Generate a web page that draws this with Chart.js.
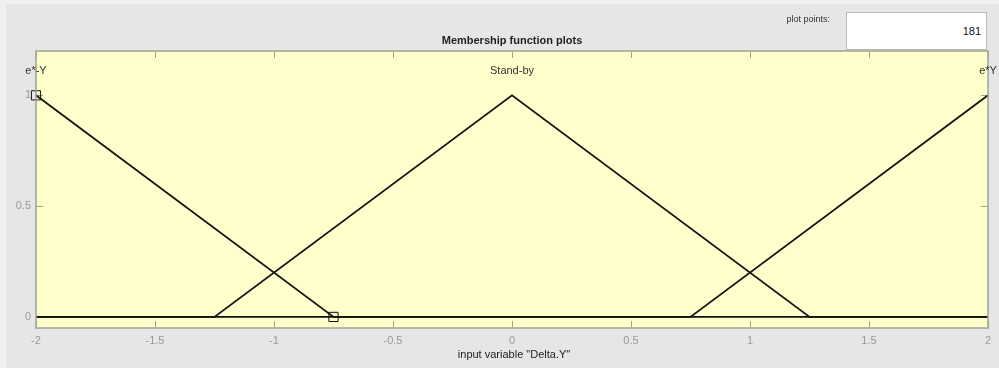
<!DOCTYPE html>
<html>
<head>
<meta charset="utf-8">
<script src="https://cdn.jsdelivr.net/npm/chart.js@4.4.1/dist/chart.umd.min.js"></script>
<style>
  html,body{margin:0;padding:0;}
  body{width:999px;height:368px;background:#f0f0f0;position:relative;overflow:hidden;font-family:"Liberation Sans",Arial,sans-serif;}
  #panel{position:absolute;left:6px;top:4px;width:993px;height:364px;background:#e6e6e6;}
  #wrap{position:absolute;left:0;top:0;width:999px;height:368px;}
  #pplabel{position:absolute;left:770px;top:14px;width:60px;text-align:right;font-size:9px;color:#333;}
  #ppbox{position:absolute;left:846px;top:12px;width:139px;height:36px;background:#fff;border:1px solid #bbb;}
  #ppval{position:absolute;right:5px;top:12px;font-size:11px;color:#111;}
</style>
</head>
<body>
<div id="panel"></div>
<div id="wrap"><canvas id="c" width="999" height="368"></canvas></div>
<div id="pplabel">plot points:</div>
<div id="ppbox"><span id="ppval">181</span></div>
<script>
// ---- data ----
const xTicks = [-2, -1.5, -1, -0.5, 0, 0.5, 1, 1.5, 2];
const yTicks = [0, 0.5, 1];
const mfNames = ["e*-Y", "Stand-by", "e*Y"];
const mfPeaks = [-2, 0, 2];
const eNegX = [-2, -0.75, 2];
const eNegY = [1, 0, 0];
const standX = [-2, -1.25, 0, 1.25, 2];
const standY = [0, 0, 1, 0, 0];
const ePosX = [-2, 0.75, 2];
const ePosY = [0, 0, 1];
const chartTitle = "Membership function plots";
const xTitle = 'input variable "Delta.Y"';

const pts = (xs, ys) => xs.map((x, i) => ({x: x, y: ys[i]}));

const FONT = '"Liberation Sans", Arial, sans-serif';

const decor = {
  id: 'decor',
  beforeDatasetsDraw(chart) {
    const {ctx, chartArea: a, scales} = chart;
    const xs = scales.x, ys = scales.y;
    ctx.save();
    ctx.fillStyle = '#ffffcc';
    ctx.fillRect(a.left, a.top, a.right - a.left, a.bottom - a.top);
    ctx.strokeStyle = '#a3a38f';
    ctx.lineWidth = 1;
    ctx.beginPath();
    const L = 7;
    xTicks.forEach(v => {
      const px = Math.round(xs.getPixelForValue(v)) + 0.5;
      ctx.moveTo(px, a.bottom); ctx.lineTo(px, a.bottom - L);
      ctx.moveTo(px, a.top); ctx.lineTo(px, a.top + L);
    });
    yTicks.forEach(v => {
      const py = Math.round(ys.getPixelForValue(v)) + 0.5;
      ctx.moveTo(a.left, py); ctx.lineTo(a.left + L, py);
      ctx.moveTo(a.right, py); ctx.lineTo(a.right - L, py);
    });
    ctx.stroke();
    ctx.restore();
  },
  afterDraw(chart) {
    const {ctx, chartArea: a, scales} = chart;
    const xs = scales.x, ys = scales.y;
    ctx.save();
    ctx.strokeStyle = '#a3a38f';
    ctx.lineWidth = 1.5;
    ctx.strokeRect(a.left, a.top, a.right - a.left, a.bottom - a.top);
    // title
    ctx.fillStyle = '#222';
    ctx.font = 'bold 11px ' + FONT;
    ctx.textAlign = 'center';
    ctx.textBaseline = 'middle';
    ctx.fillText(chartTitle, (a.left + a.right) / 2, 41);
    // x axis title
    ctx.font = '11px ' + FONT;
    ctx.fillStyle = '#222';
    ctx.fillText(xTitle, (a.left + a.right) / 2 + 2, 355);
    // MF labels
    ctx.fillStyle = '#333';
    mfNames.forEach((n, i) => {
      ctx.fillText(n, xs.getPixelForValue(mfPeaks[i]), ys.getPixelForValue(1.108));
    });
    ctx.restore();
  }
};

const lineDs = (data, radii) => ({
  data: data,
  showLine: true,
  borderColor: '#111',
  borderWidth: 1.8,
  pointStyle: 'rect',
  pointRadius: radii,
  pointBorderColor: '#111',
  pointBorderWidth: 1,
  pointBackgroundColor: 'rgba(0,0,0,0)',
  pointHoverRadius: radii,
  tension: 0,
  clip: false
});

new Chart(document.getElementById('c'), {
  type: 'scatter',
  data: {
    datasets: [
      lineDs(pts(standX, standY), 0),
      lineDs(pts(ePosX, ePosY), 0),
      lineDs(pts(eNegX, eNegY), [6.5, 6.5, 0])
    ]
  },
  options: {
    responsive: false,
    animation: false,
    events: [],
    layout: {padding: {top: 51, right: 11, left: 0, bottom: 0}},
    plugins: {legend: {display: false}, tooltip: {enabled: false}, title: {display: false}},
    scales: {
      x: {
        type: 'linear', min: -2, max: 2,
        afterBuildTicks: s => { s.ticks = xTicks.map(v => ({value: v})); },
        afterFit: s => { s.height = 40; },
        grid: {display: false, drawTicks: false},
        border: {display: false},
        ticks: {color: '#999999', font: {size: 11, family: FONT}, padding: 6, maxRotation: 0, autoSkip: false,
                callback: v => String(v)}
      },
      y: {
        type: 'linear', min: -0.05, max: 1.2,
        afterBuildTicks: s => { s.ticks = yTicks.map(v => ({value: v})); },
        afterFit: s => { s.width = 36; },
        grid: {display: false, drawTicks: false},
        border: {display: false},
        ticks: {color: '#999999', font: {size: 11, family: FONT}, padding: 5, autoSkip: false,
                callback: v => String(v)}
      }
    }
  },
  plugins: [decor]
});
</script>
</body>
</html>
